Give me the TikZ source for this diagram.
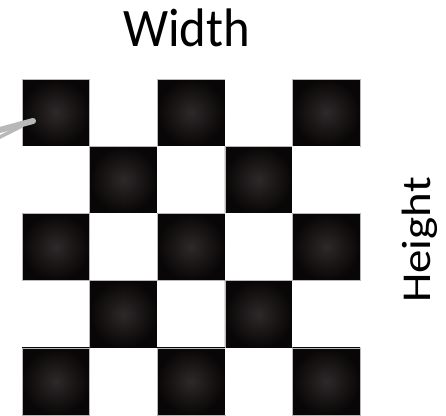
\documentclass[tikz,border=0pt]{standalone}
\usepackage{fontspec}
\usepackage{graphicx}
\setmainfont{Carlito}
\definecolor{sqin}{HTML}{2E2829}
\definecolor{sqout}{HTML}{080606}
\definecolor{ptrgray}{HTML}{B8B8B8}
\begin{document}
\begin{tikzpicture}[x=1pt,y=-1pt,
  blacksq/.style={inner color=sqin, outer color=sqout, draw=gray!55, line width=0.5pt},
  whitesq/.style={fill=white},
  pointer/.style={draw=ptrgray, line cap=round},
  lbl/.style={inner sep=0pt, text=black}]
\useasboundingbox (0,0) rectangle (446,415);
\fill[white] (0,0) rectangle (446,415);
\foreach \i in {0,...,4}{
  \foreach \j in {0,...,4}{
    \pgfmathtruncatemacro{\myparity}{mod(\i+\j,2)}
    \ifnum\myparity=0
      \path[blacksq] (22+\j*67.6,79+\i*67.2) rectangle ++(67.6,67.2);
    \else
      \path[whitesq] (22+\j*67.6,79+\i*67.2) rectangle ++(67.6,67.2);
    \fi
  }
}
\coordinate (tip) at (33,121);
\coordinate (s1) at (-2,130.5);
\coordinate (s2) at (-2,138);
\draw[pointer, line width=6pt] (s1) -- (tip);
\draw[pointer, line width=3.5pt] (s2) -- (22,126);
\node[lbl, font=\fontsize{50.7}{50.7}\selectfont, anchor=base] (w) at (186.5,46.7) {\scalebox{1}[1.07]{Width}};
\node[lbl, font=\fontsize{41}{41}\selectfont, anchor=base, rotate=90] (h) at (430,240) {\scalebox{1.146}[1]{Height}};
\end{tikzpicture}
\end{document}
